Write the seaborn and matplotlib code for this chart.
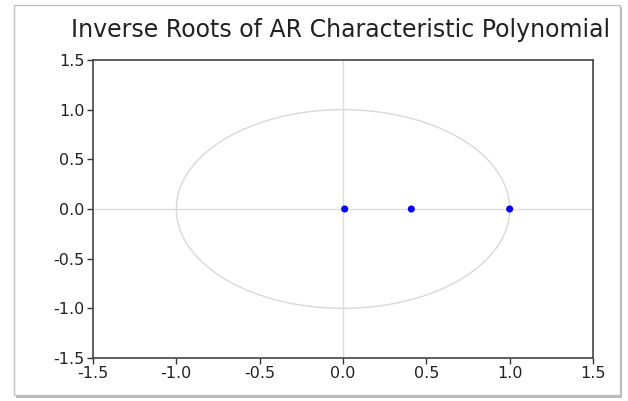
import numpy as np
import matplotlib
matplotlib.use("Agg")
import matplotlib.pyplot as plt
import seaborn as sns
import pandas as pd
from matplotlib.patches import Rectangle

root_re = [0.01, 0.41, 1.0]
root_im = [0.0, 0.0, 0.0]
ticks = [-1.5, -1.0, -0.5, 0.0, 0.5, 1.0, 1.5]
title = "Inverse Roots of AR Characteristic Polynomial"

sns.set_style("white")
plt.rcParams['font.family'] = ['DejaVu Sans']

W, H = 628, 401
fig = plt.figure(figsize=(W/100, H/100), dpi=100)
fig.patch.set_facecolor("white")

# screenshot-like frame with shadow
fig.patches.append(Rectangle((16/W, 1-398/H), 606/W, 391/H, transform=fig.transFigure,
                             facecolor="#b8b8b8", edgecolor="none", zorder=-2))
fig.patches.append(Rectangle((14/W, 1-395/H), 606/W, 390/H, transform=fig.transFigure,
                             facecolor="white", edgecolor="#c0c0c0", lw=1.0, zorder=-1))

ax = fig.add_axes([93/W, 1-358/H, 500/W, 298/H])
ax.set_facecolor("none")

theta = np.linspace(0, 2*np.pi, 400)
ax.plot(np.cos(theta), np.sin(theta), color="#d8d8d8", lw=1.0, zorder=1)
ax.axhline(0, color="#dcdcdc", lw=1.0, zorder=1)
ax.axvline(0, color="#dcdcdc", lw=1.0, zorder=1)

df = pd.DataFrame({"re": root_re, "im": root_im})
sns.scatterplot(data=df, x="re", y="im", ax=ax, color="#0000ee", s=26,
                edgecolor="none", zorder=3)

ax.set_xlim(-1.5, 1.5)
ax.set_ylim(-1.5, 1.5)
ax.set_xticks(ticks)
ax.set_yticks(ticks)
ax.set_xticklabels([f"{t:.1f}" for t in ticks], fontsize=11.5)
ax.set_yticklabels([f"{t:.1f}" for t in ticks], fontsize=11.5)
ax.set_xlabel("")
ax.set_ylabel("")
ax.tick_params(axis="both", bottom=True, left=True, direction="out", length=4,
               width=1, color="#333333", pad=2, labelcolor="#222222")
ax.tick_params(axis="x", pad=2)
for s in ax.spines.values():
    s.set_color("#444444")
    s.set_linewidth(1.2)

fig.text(341/W, 1-30/H, title, ha="center", va="center", fontsize=17, color="#222222")

fig.savefig("out.png", dpi=100)
